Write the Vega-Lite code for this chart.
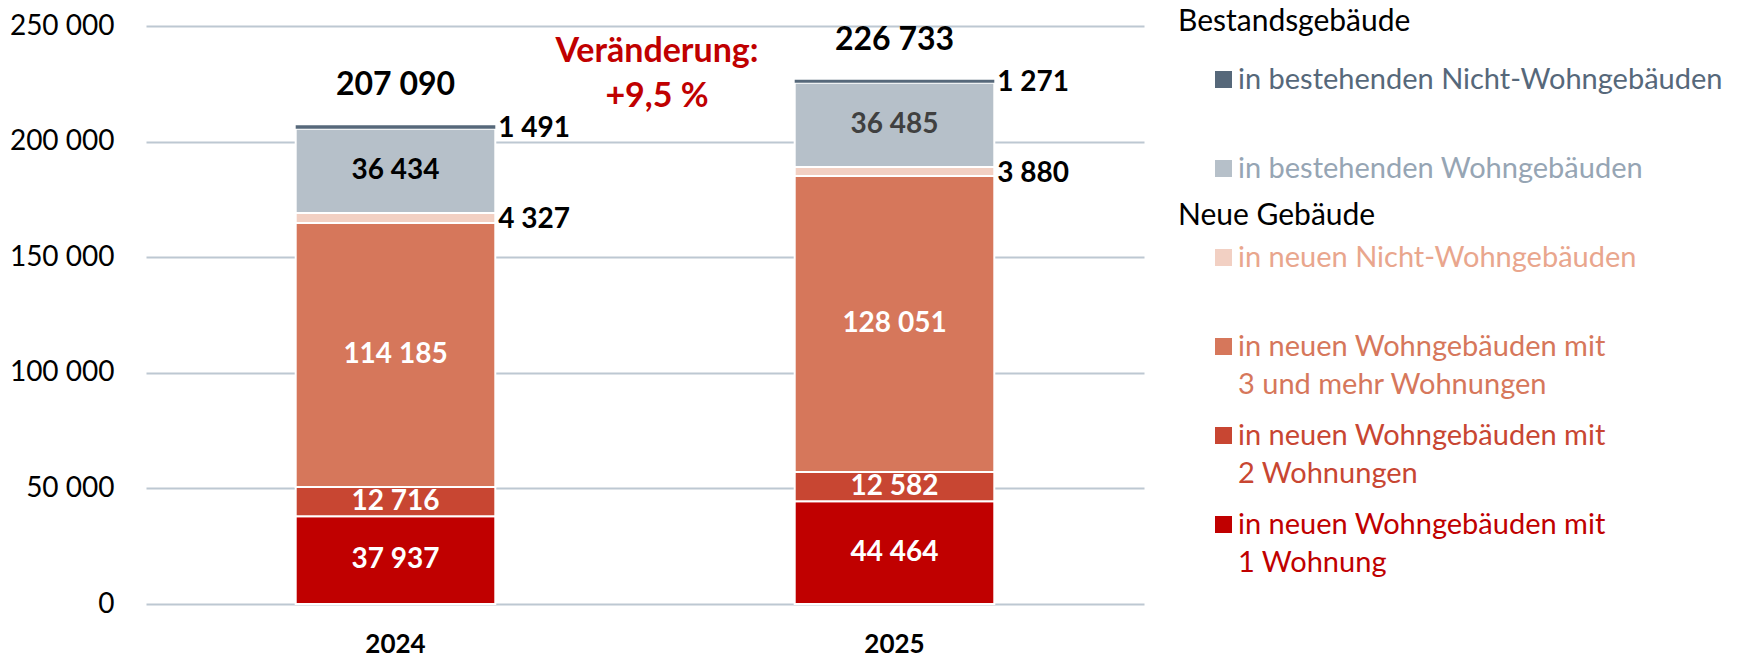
{
  "$schema": "https://vega.github.io/schema/vega-lite/v6.json",
  "width": 998,
  "height": 578,
  "autosize": {"type": "none"},
  "padding": {"left": 146, "top": 26, "right": 595, "bottom": 54},
  "config": {
    "font": "Lato",
    "locale": {"number": {"decimal": ",", "thousands": " ", "grouping": [3], "currency": ["", " €"]}},
    "view": {"stroke": null},
    "style": {"guide-label": {"lineHeight": 38}},
    "legend": {
      "orient": "none",
      "padding": 0,
      "titleFont": "Lato",
      "titleFontSize": 30,
      "titleFontWeight": "normal",
      "titleColor": "#000000",
      "titleLimit": 500,
      "labelFont": "Lato",
      "labelFontSize": 29,
      "labelLimit": 600,
      "symbolType": "square",
      "symbolSize": 289,
      "symbolStrokeWidth": 0,
      "symbolOffset": 31,
      "labelOffset": 0,
      "labelBaseline": "middle"
    }
  },
  "data": {
    "values": [
      {"year": "2024", "ord": 1, "grp": "Neu", "cat": "in neuen Wohngebäuden mit 1 Wohnung", "value": 37937},
      {"year": "2024", "ord": 2, "grp": "Neu", "cat": "in neuen Wohngebäuden mit 2 Wohnungen", "value": 12716},
      {"year": "2024", "ord": 3, "grp": "Neu", "cat": "in neuen Wohngebäuden mit 3 und mehr Wohnungen", "value": 114185},
      {"year": "2024", "ord": 4, "grp": "Neu", "cat": "in neuen Nicht-Wohngebäuden", "value": 4327},
      {"year": "2024", "ord": 5, "grp": "Bestand", "cat": "in bestehenden Wohngebäuden", "value": 36434},
      {"year": "2024", "ord": 6, "grp": "Bestand", "cat": "in bestehenden Nicht-Wohngebäuden", "value": 1491},
      {"year": "2025", "ord": 1, "grp": "Neu", "cat": "in neuen Wohngebäuden mit 1 Wohnung", "value": 44464},
      {"year": "2025", "ord": 2, "grp": "Neu", "cat": "in neuen Wohngebäuden mit 2 Wohnungen", "value": 12582},
      {"year": "2025", "ord": 3, "grp": "Neu", "cat": "in neuen Wohngebäuden mit 3 und mehr Wohnungen", "value": 128051},
      {"year": "2025", "ord": 4, "grp": "Neu", "cat": "in neuen Nicht-Wohngebäuden", "value": 3880},
      {"year": "2025", "ord": 5, "grp": "Bestand", "cat": "in bestehenden Wohngebäuden", "value": 36485},
      {"year": "2025", "ord": 6, "grp": "Bestand", "cat": "in bestehenden Nicht-Wohngebäuden", "value": 1271}
    ]
  },
  "transform": [
    {"stack": "value", "groupby": ["year"], "sort": [{"field": "ord", "order": "ascending"}], "as": ["y0", "y1"]},
    {"calculate": "(datum.y0 + datum.y1) / 2", "as": "ymid"}
  ],
  "layer": [
    {
      "transform": [{"filter": "datum.grp == 'Bestand'"}],
      "mark": {"type": "bar", "stroke": "white"},
      "encoding": {
        "x": {
          "field": "year", "type": "nominal",
          "scale": {"paddingInner": 0.6, "paddingOuter": 0.3},
          "axis": {"title": null, "domain": false, "ticks": false, "labelAngle": 0, "labelFont": "Lato", "labelFontSize": 26, "labelFontWeight": "bold", "labelColor": "#000000", "labelPadding": 27}
        },
        "y": {
          "field": "y1", "type": "quantitative",
          "scale": {"domain": [0, 250000], "nice": false, "zero": true},
          "axis": {"title": null, "domain": false, "ticks": false, "values": [0, 50000, 100000, 150000, 200000, 250000], "format": ",d", "labelFont": "Lato", "labelFontSize": 28, "labelColor": "#000000", "labelPadding": 32, "grid": true, "gridColor": "#BDC8D2", "gridWidth": 2}
        },
        "y2": {"field": "y0"},
        "strokeWidth": {"condition": {"test": "datum.ord == 6", "value": 0}, "value": 2},
        "color": {
          "field": "cat", "type": "nominal",
          "scale": {"domain": ["in bestehenden Nicht-Wohngebäuden", "in bestehenden Wohngebäuden"], "range": ["#56687A", "#B6C0C9"]},
          "legend": {
            "title": "Bestandsgebäude",
            "legendX": 1032, "legendY": -19,
            "titlePadding": 28,
            "rowPadding": 59,
            "labelColor": {"expr": "datum.value == 'in bestehenden Wohngebäuden' ? '#96A5B4' : '#56687A'"}
          }
        }
      }
    },
    {
      "transform": [{"filter": "datum.grp == 'Neu'"}],
      "mark": {"type": "bar", "stroke": "white", "strokeWidth": 2},
      "encoding": {
        "x": {"field": "year", "type": "nominal"},
        "y": {"field": "y1", "type": "quantitative"},
        "y2": {"field": "y0"},
        "color": {
          "field": "cat", "type": "nominal",
          "scale": {
            "domain": ["in neuen Nicht-Wohngebäuden", "in neuen Wohngebäuden mit 3 und mehr Wohnungen", "in neuen Wohngebäuden mit 2 Wohnungen", "in neuen Wohngebäuden mit 1 Wohnung"],
            "range": ["#F2D0C3", "#D6775B", "#C84632", "#C00000"]
          },
          "legend": {
            "title": "Neue Gebäude",
            "legendX": 1032, "legendY": 175,
            "titlePadding": 12,
            "rowPadding": 21,
            "gridAlign": "all",
            "labelExpr": "split(replace(datum.label, ' mit ', ' mit|'), '|')",
            "labelColor": {"expr": "datum.value == 'in neuen Nicht-Wohngebäuden' ? '#E9A68D' : datum.value == 'in neuen Wohngebäuden mit 3 und mehr Wohnungen' ? '#D6775B' : datum.value == 'in neuen Wohngebäuden mit 2 Wohnungen' ? '#C84632' : '#C00000'"}
          }
        }
      }
    },
    {
      "transform": [{"filter": "datum.ord != 4 && datum.ord != 6"}],
      "mark": {"type": "text", "font": "Lato", "fontSize": 28, "fontWeight": "bold", "baseline": "middle", "align": "center"},
      "encoding": {
        "x": {"field": "year", "type": "nominal"},
        "y": {"field": "ymid", "type": "quantitative"},
        "text": {"field": "value", "type": "quantitative", "format": ",d"},
        "color": {"condition": [{"test": "datum.ord == 5 && datum.year == '2025'", "value": "#404040"}, {"test": "datum.ord == 5", "value": "#000000"}], "value": "#FFFFFF"}
      }
    },
    {
      "transform": [{"filter": "datum.ord == 4 || datum.ord == 6"}],
      "mark": {"type": "text", "font": "Lato", "fontSize": 28, "fontWeight": "bold", "baseline": "middle", "align": "left", "dx": 3, "dy": 2, "color": "#000000"},
      "encoding": {
        "x": {"field": "year", "type": "nominal", "bandPosition": 1},
        "y": {"field": "ymid", "type": "quantitative"},
        "text": {"field": "value", "type": "quantitative", "format": ",d"}
      }
    },
    {
      "transform": [{"aggregate": [{"op": "sum", "field": "value", "as": "total"}], "groupby": ["year"]}],
      "mark": {"type": "text", "font": "Lato", "fontSize": 32, "fontWeight": "bold", "baseline": "middle", "align": "center", "dy": -40, "color": "#000000"},
      "encoding": {
        "x": {"field": "year", "type": "nominal"},
        "y": {"field": "total", "type": "quantitative"},
        "text": {"field": "total", "type": "quantitative", "format": ",d"}
      }
    },
    {
      "data": {"values": [{"note": "Veränderung:\n+9,5 %"}]},
      "mark": {"type": "text", "font": "Lato", "fontSize": 34, "fontWeight": "bold", "baseline": "middle", "align": "center", "lineBreak": "\n", "lineHeight": 45, "color": "#C00000", "x": {"expr": "width / 2"}, "dx": 12},
      "encoding": {
        "y": {"datum": 238800, "type": "quantitative"},
        "text": {"field": "note", "type": "nominal"}
      }
    }
  ],
  "resolve": {"scale": {"color": "independent"}}
}
